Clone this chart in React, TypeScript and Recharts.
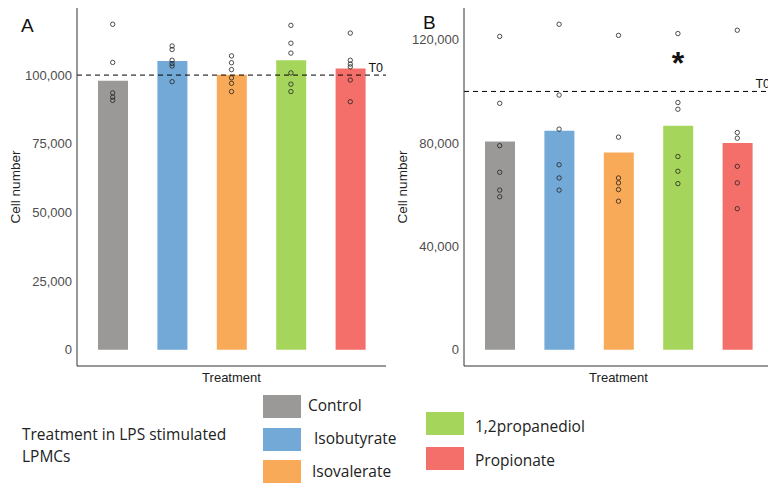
import React from 'react';
import { ComposedChart, Bar, Line, XAxis, YAxis, ReferenceLine, ReferenceDot, Cell } from 'recharts';

const categories = ['Control', 'Isobutyrate', 'Isovalerate', '1,2propanediol', 'Propionate'];
const colors = ['#9b9997', '#72a9d6', '#f9aa58', '#a6d55c', '#f46f69'];

const meanA = [97900, 105100, 100100, 105400, 102400];
const pointsA = [
  [118500, 104600, 93500, 92000, 90800],
  [110600, 109300, 105400, 104200, 103300, 97600],
  [107000, 104500, 102000, 99000, 97000, 94000],
  [118100, 111600, 108000, 100800, 96700, 94000],
  [115300, 105400, 104000, 103000, 98200, 90300],
];
const ticksA = [0, 25000, 50000, 75000, 100000];

const meanB = [80600, 84800, 76400, 86700, 80000];
const pointsB = [
  [121300, 95400, 79000, 68700, 61800, 59200],
  [126000, 98600, 85400, 71600, 66500, 61800],
  [121700, 82300, 66500, 64600, 62000, 57500],
  [122400, 95700, 93100, 74800, 69100, 64300],
  [123700, 84100, 81900, 71000, 64600, 54600],
];
const ticksB = [0, 40000, 80000, 120000];

const t0Value = 100000;
const sigCategoryB = '1,2propanediol';
const sigValueB = 111200;

const legendTitle = ['Treatment in LPS stimulated', 'LPMCs'];

const FONT = '"Liberation Sans", Arial, sans-serif';
const N_POINTS = 6;

function buildRows(means: number[], points: number[][]) {
  return categories.map((c, i) => {
    const row: any = { cat: c, mean: means[i] };
    for (let k = 0; k < N_POINTS; k++) row['p' + k] = points[i][k] ?? null;
    return row;
  });
}

const fmt = (v: number) => v.toLocaleString('en-US');

const YTitle = (props: any) => {
  const vb = props.viewBox || { x: 0, y: 8, width: 77, height: 358 };
  const x = vb.x + props.dxPos;
  const y = vb.y + vb.height / 2;
  return (
    <text x={x} y={y} transform={`rotate(-90, ${x}, ${y})`} textAnchor="middle" dominantBaseline="central" fontSize={13.5} fill="#222" fontFamily={FONT}>
      Cell number
    </text>
  );
};

const XTitle = (props: any) => {
  const vb = props.viewBox || { x: 77, y: 366, width: 309, height: 26 };
  const x = vb.x + vb.width / 2;
  const y = vb.y + 11;
  return (
    <text x={x} y={y} textAnchor="middle" dominantBaseline="central" fontSize={13} fill="#222" fontFamily={FONT}>
      Treatment
    </text>
  );
};

type PanelProps = {
  left: number;
  width: number;
  yAxisWidth: number;
  rows: any[];
  domain: [number, number];
  ticks: number[];
  titleDx: number;
  sig?: { x: string; y: number };
};

const Panel = ({ left, width, yAxisWidth, rows, domain, ticks, titleDx, sig }: PanelProps) => (
  <div style={{ position: 'absolute', left, top: 0 }}>
    <ComposedChart width={width} height={392} data={rows} margin={{ top: 8, right: 6, bottom: 0, left: 0 }}>
      <XAxis
        dataKey="cat"
        type="category"
        tick={false}
        tickLine={false}
        height={26}
        padding={{ left: 6, right: 6 }}
        axisLine={{ stroke: '#333', strokeWidth: 1 }}
        label={{ content: (p: any) => <XTitle {...p} /> }}
      />
      <YAxis
        type="number"
        domain={domain}
        ticks={ticks}
        allowDataOverflow
        width={yAxisWidth}
        tickFormatter={fmt}
        tickLine={false}
        tickSize={3}
        tickMargin={2}
        tick={{ fontSize: 13, fill: '#4d4d4d', fontFamily: FONT }}
        axisLine={{ stroke: '#333', strokeWidth: 1 }}
        label={{ content: (p: any) => <YTitle {...p} dxPos={titleDx} /> }}
      />
      <Bar dataKey="mean" barSize={30} isAnimationActive={false}>
        {rows.map((r, i) => (
          <Cell key={r.cat} fill={colors[i]} />
        ))}
      </Bar>
      <ReferenceLine
        y={t0Value}
        stroke="#000"
        strokeWidth={1}
        strokeDasharray="5 4"
        label={{ value: 'T0', position: 'insideBottomRight', offset: 3, fontSize: 12.5, fill: '#111', fontFamily: FONT }}
      />
      {Array.from({ length: N_POINTS }).map((_, k) => (
        <Line
          key={k}
          dataKey={'p' + k}
          stroke="none"
          isAnimationActive={false}
          activeDot={false}
          dot={{ r: 2.2, stroke: '#222', strokeWidth: 0.8, fill: 'none' }}
        />
      ))}
      {sig && (
        <ReferenceDot
          x={sig.x}
          y={sig.y}
          r={0}
          stroke="none"
          label={{ value: '*', position: 'center', fontSize: 32, fontWeight: 'bold', fill: '#111', fontFamily: FONT }}
        />
      )}
    </ComposedChart>
  </div>
);

const legendLayout = [
  { sx: 263, sy: 395, tx: 308, ty: 405 },
  { sx: 263, sy: 428, tx: 314, ty: 438 },
  { sx: 263, sy: 460, tx: 312, ty: 471 },
  { sx: 426, sy: 412, tx: 475, ty: 426 },
  { sx: 426, sy: 447, tx: 475, ty: 460 },
];

export default function App() {
  const rowsA = buildRows(meanA, pointsA);
  const rowsB = buildRows(meanB, pointsB);
  const legendFont = '"Open Sans", "Liberation Sans", sans-serif';
  return (
    <div style={{ position: 'absolute', left: 0, top: 0, width: 768, height: 484, overflow: 'hidden', background: '#fff', fontFamily: FONT }}>
      <Panel left={0} width={392} yAxisWidth={77} rows={rowsA} domain={[-5925, 124425]} ticks={ticksA} titleDx={15.5} />
      <Panel left={384} width={395} yAxisWidth={80} rows={rowsB} domain={[-6300, 132300]} ticks={ticksB} titleDx={18} sig={{ x: sigCategoryB, y: sigValueB }} />
      <div style={{ position: 'absolute', left: 21, top: 16, fontSize: 19, lineHeight: '19px', color: '#111' }}>A</div>
      <div style={{ position: 'absolute', left: 423, top: 13, fontSize: 19, lineHeight: '19px', color: '#111' }}>B</div>
      <div style={{ position: 'absolute', left: 22, top: 423, fontSize: 15.5, lineHeight: '22px', color: '#222', fontFamily: legendFont }}>
        {legendTitle.map((t) => (
          <div key={t}>{t}</div>
        ))}
      </div>
      {categories.map((c, i) => (
        <React.Fragment key={c}>
          <div style={{ position: 'absolute', left: legendLayout[i].sx, top: legendLayout[i].sy, width: 38, height: 23, background: colors[i] }} />
          <div style={{ position: 'absolute', left: legendLayout[i].tx, top: legendLayout[i].ty - 11, fontSize: 15.5, lineHeight: '22px', color: '#222', fontFamily: legendFont, whiteSpace: 'nowrap' }}>
            {c}
          </div>
        </React.Fragment>
      ))}
    </div>
  );
}
